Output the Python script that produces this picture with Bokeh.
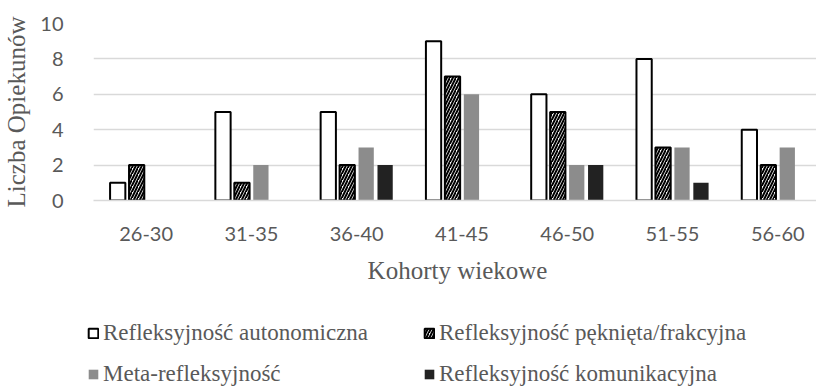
import numpy as np
from bokeh.plotting import figure
from bokeh.layouts import column
from bokeh.models import (ColumnDataSource, Range1d, FixedTicker, Legend, LegendItem)
from bokeh.transform import dodge
from bokeh.embed import file_html
from bokeh.resources import INLINE

categories = ["26-30", "31-35", "36-40", "41-45", "46-50", "51-55", "56-60"]
autonomiczna = [1, 5, 5, 9, 6, 8, 4]
peknieta = [2, 1, 2, 7, 5, 3, 2]
meta = [0, 2, 3, 6, 2, 3, 3]
komunikacyjna = [0, 0, 2, 0, 2, 1, 0]
y_ticks = [0, 2, 4, 6, 8, 10]

series_names = ["Refleksyjność autonomiczna", "Refleksyjność pęknięta/frakcyjna",
                "Meta-refleksyjność", "Refleksyjność komunikacyjna"]

xpos = list(np.arange(len(categories)) + 0.5)
src = ColumnDataSource(dict(x=xpos, a=autonomiczna, p=peknieta, m=meta, k=komunikacyjna))

TXT = "#595959"
GRID = "#d9d9d9"

styles = [
    dict(fill_color="white", line_color="black", line_width=2),
    dict(fill_color="white", line_color="black", line_width=2,
         hatch_pattern="/", hatch_color="black", hatch_scale=6, hatch_weight=2),
    dict(fill_color="#8c8c8c", line_color=None),
    dict(fill_color="#222222", line_color=None),
]

p = figure(frame_width=728, frame_height=177, output_backend="svg", toolbar_location=None,
           x_range=Range1d(0, 6.915), y_range=Range1d(0, 10),
           min_border_left=88, min_border_right=0, min_border_top=23,
           min_border_bottom=110)
p.outline_line_color = None
p.background_fill_color = "white"
p.border_fill_color = "white"

bw = 0.145
step = 0.18
cols = ["a", "p", "m", "k"]
for i, (c, st) in enumerate(zip(cols, styles)):
    p.vbar(x=dodge("x", (i - 1.5) * step, range=p.x_range), top=c, width=bw,
           source=src, **st)

# axes
p.xaxis.ticker = FixedTicker(ticks=xpos)
p.xaxis.major_label_overrides = {x: c for x, c in zip(xpos, categories)}
p.xaxis.axis_line_color = GRID
p.xaxis.axis_line_width = 1.5
p.xaxis.major_tick_line_color = None
p.xaxis.minor_tick_line_color = None
p.xaxis.major_label_text_font = "Lato"
p.xaxis.major_label_text_font_size = "20px"
p.xaxis.major_label_text_color = TXT
p.xaxis.major_label_standoff = 20
p.xaxis.axis_label = "Kohorty wiekowe"
p.xaxis.axis_label_text_font = "Liberation Serif"
p.xaxis.axis_label_text_font_style = "normal"
p.xaxis.axis_label_text_font_size = "25px"
p.xaxis.axis_label_text_color = TXT
p.xaxis.axis_label_standoff = 13

p.yaxis.ticker = FixedTicker(ticks=y_ticks)
p.yaxis.axis_line_color = None
p.yaxis.major_tick_line_color = None
p.yaxis.minor_tick_line_color = None
p.yaxis.major_label_text_font = "Lato"
p.yaxis.major_label_text_font_size = "20px"
p.yaxis.major_label_text_color = TXT
p.yaxis.major_label_standoff = 24
p.yaxis.axis_label = "Liczba Opiekunów"
p.yaxis.axis_label_text_font = "Liberation Serif"
p.yaxis.axis_label_text_font_style = "normal"
p.yaxis.axis_label_text_font_size = "25px"
p.yaxis.axis_label_text_color = TXT
p.yaxis.axis_label_standoff = 7

p.xgrid.grid_line_color = None
p.ygrid.grid_line_color = GRID
p.ygrid.grid_line_width = 1.5

# legend strip (separate figure so the legend is not clipped)
pl = figure(frame_width=816, frame_height=77, output_backend="svg", toolbar_location=None,
            x_range=Range1d(0, 1), y_range=Range1d(0, 1),
            x_axis_location=None, y_axis_location=None,
            min_border_left=0, min_border_right=0, min_border_top=0, min_border_bottom=0)
pl.outline_line_color = None
pl.grid.grid_line_color = None
pl.background_fill_color = "white"
pl.border_fill_color = "white"
# hidden proxy renderers that carry the legend swatch styles
lrs = [pl.vbar(x=[0.5], top=[1], width=0.1, visible=False, **st) for st in styles]

legend = Legend(items=[LegendItem(label=n, renderers=[r]) for n, r in zip(series_names, lrs)],
                location=(87, 0), orientation="horizontal", ncols=2,
                glyph_width=12, glyph_height=12, label_standoff=4,
                label_width=305, spacing=15, padding=0, margin=0,
                label_text_font="Liberation Serif", label_text_font_size="23px",
                label_text_color=TXT, border_line_color=None,
                background_fill_alpha=0, inactive_fill_alpha=0)
pl.add_layout(legend, "center")

layout = column(p, pl, spacing=0)
open("out.html", "w").write(file_html(layout, INLINE))
